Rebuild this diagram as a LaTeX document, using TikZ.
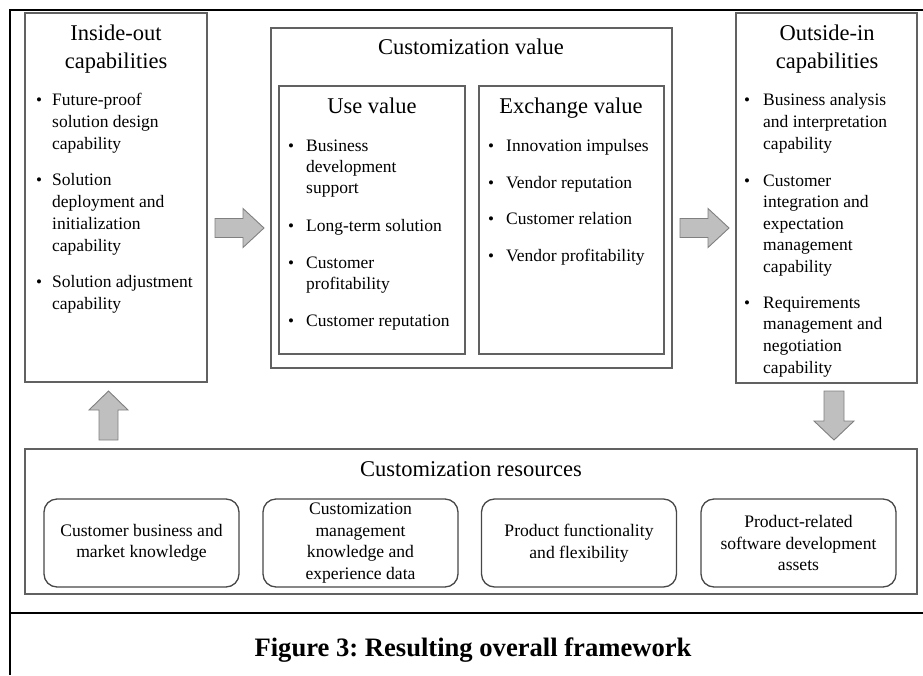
\documentclass[tikz,border=0pt]{standalone}
\usepackage{fontspec}
\setmainfont{Liberation Serif}
\frenchspacing
\begin{document}
\begin{tikzpicture}[x=1pt,y=-1pt,
  frameline/.style={line width=2.5pt,black},
  panel/.style={draw=black!62,line width=1.3pt},
  resbox/.style={draw=black!72,line width=1.3pt,rounded corners=13pt,
    minimum width=195pt,minimum height=88pt,inner sep=0pt,align=center,
    font=\fontsize{17.6}{21.5}\selectfont},
  blockarrow/.style={fill=black!25,draw=black!50,line width=0.9pt},
  heading/.style={inner sep=0pt,anchor=base,align=center,
    font=\fontsize{22.5}{28}\selectfont},
  bul/.style={inner sep=0pt,anchor=base,font=\fontsize{17}{22}\selectfont},
  item/.style={inner sep=0pt,anchor=base west,font=\fontsize{17.5}{22}\selectfont},
  caption/.style={inner sep=0pt,anchor=base,font=\fontsize{26.6}{30}\selectfont\bfseries}]
\useasboundingbox (0,0) rectangle (923,675);

% outer frame and caption separator
\draw[frameline] (923,10) -- (10,10) -- (10,675);
\draw[frameline] (10,613) -- (923,613);

% ---------- inside-out capabilities ----------
\draw[panel] (25,13) rectangle (207,382);
\node[heading] (iotitle) at (116,40) {\parbox[t]{170pt}{\centering Inside-out\\capabilities}};
\node[bul] (iob1) at (39,105) {\textbullet};
\node[item] (iot1) at (52,105) {\parbox[t]{150pt}{\raggedright Future-proof\\solution design\\capability}};
\node[bul] (iob2) at (39,185) {\textbullet};
\node[item] (iot2) at (52,185) {\parbox[t]{150pt}{\raggedright Solution\\deployment and\\initialization\\capability}};
\node[bul] (iob3) at (39,287) {\textbullet};
\node[item] (iot3) at (52,287) {\parbox[t]{150pt}{\raggedright Solution adjustment\\capability}};

% ---------- customization value ----------
\draw[panel] (271,28) rectangle (672,368);
\node[heading] (cvtitle) at (471,54) {Customization value};

\draw[panel] (279,86) rectangle (465,354);
\node[heading] (uvtitle) at (372,113) {Use value};
\node[bul] (uvb1) at (291,151) {\textbullet};
\node[item,font=\fontsize{17.5}{21}\selectfont] (uvt1) at (306,151) {\parbox[t]{150pt}{\raggedright Business\\development\\support}};
\node[bul] (uvb2) at (291,231) {\textbullet};
\node[item] (uvt2) at (306,231) {Long-term solution};
\node[bul] (uvb3) at (291,268) {\textbullet};
\node[item,font=\fontsize{17.5}{21}\selectfont] (uvt3) at (306,268) {\parbox[t]{150pt}{\raggedright Customer\\profitability}};
\node[bul] (uvb4) at (291,326) {\textbullet};
\node[item] (uvt4) at (306,326) {Customer reputation};

\draw[panel] (479,86) rectangle (664,354);
\node[heading] (evtitle) at (571,113) {Exchange value};
\node[bul] (evb1) at (491,151) {\textbullet};
\node[item] (evt1) at (506,151) {Innovation impulses};
\node[bul] (evb2) at (491,188) {\textbullet};
\node[item] (evt2) at (506,188) {Vendor reputation};
\node[bul] (evb3) at (491,224) {\textbullet};
\node[item] (evt3) at (506,224) {Customer relation};
\node[bul] (evb4) at (491,261) {\textbullet};
\node[item] (evt4) at (506,261) {Vendor profitability};

% ---------- outside-in capabilities ----------
\draw[panel] (736,13) rectangle (917,383);
\node[heading] (oititle) at (827,40) {\parbox[t]{170pt}{\centering Outside-in\\capabilities}};
\node[bul] (oib1) at (747,105) {\textbullet};
\node[item] (oit1) at (763,105) {\parbox[t]{150pt}{\raggedright Business analysis\\and interpretation\\capability}};
\node[bul] (oib2) at (747,186) {\textbullet};
\node[item,font=\fontsize{17.5}{21.5}\selectfont] (oit2) at (763,186) {\parbox[t]{150pt}{\raggedright Customer\\integration and\\expectation\\management\\capability}};
\node[bul] (oib3) at (747,308) {\textbullet};
\node[item,font=\fontsize{17.5}{21.7}\selectfont] (oit3) at (763,308) {\parbox[t]{150pt}{\raggedright Requirements\\management and\\negotiation\\capability}};

% ---------- customization resources ----------
\draw[panel] (25,449) rectangle (917,594);
\node[heading] (crtitle) at (471,476) {Customization resources};
\node[resbox] (r1) at (141.5,543) {Customer business and\\market knowledge};
\node[resbox] (r2) at (360.5,543) {Customization\\management\\knowledge and\\experience data};
\node[resbox] (r3) at (579,543) {Product functionality\\and flexibility};
\node[resbox] (r4) at (798.5,543) {Product-related\\software development\\assets};

% ---------- block arrows ----------
\draw[blockarrow] (215,218.5) -- (243,218.5) -- (243,208.5) -- (264,228) -- (243,247.5)
  -- (243,237.5) -- (215,237.5) -- cycle;
\draw[blockarrow] (680,218.5) -- (708,218.5) -- (708,208.5) -- (729,228) -- (708,247.5)
  -- (708,237.5) -- (680,237.5) -- cycle;
\draw[blockarrow] (99,440) -- (99,410) -- (89,410) -- (108.5,391) -- (128,410)
  -- (118,410) -- (118,440) -- cycle;
\draw[blockarrow] (824,391) -- (844,391) -- (844,421) -- (854,421) -- (834,440)
  -- (814,421) -- (824,421) -- cycle;

% ---------- caption ----------
\node[caption] (cap) at (473,656) {Figure 3: Resulting overall framework};
\end{tikzpicture}
\end{document}
